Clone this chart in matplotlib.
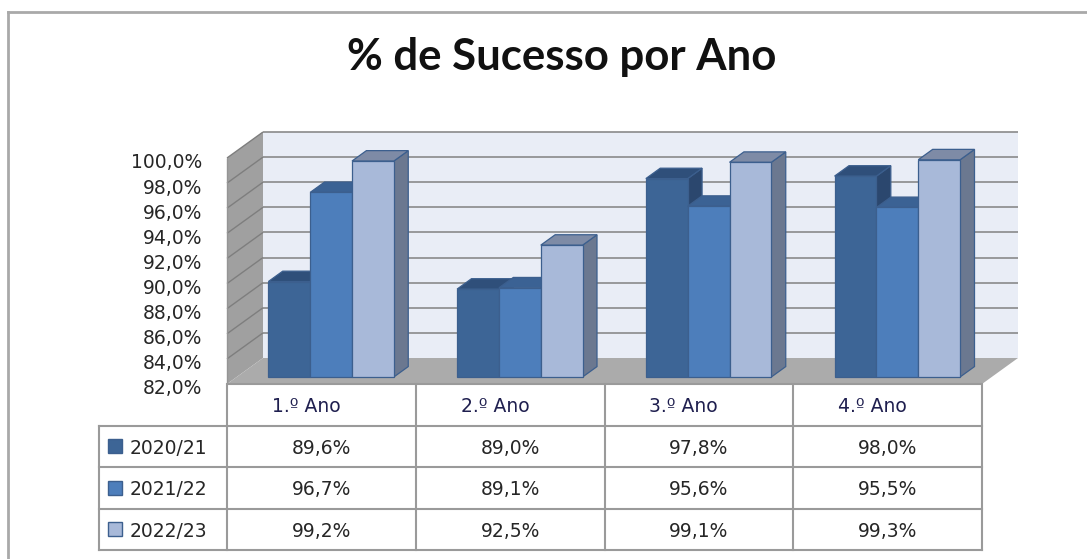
import matplotlib.pyplot as plt
from matplotlib.patches import Polygon
from matplotlib.lines import Line2D
from matplotlib.transforms import ScaledTranslation

# dados
categorias = ['1.º Ano', '2.º Ano', '3.º Ano', '4.º Ano']
anos = ['2020/21', '2021/22', '2022/23']
v_2020_21 = [89.6, 89.0, 97.8, 98.0]
v_2021_22 = [96.7, 89.1, 95.6, 95.5]
v_2022_23 = [99.2, 92.5, 99.1, 99.3]
eixo_y = [82, 84, 86, 88, 90, 92, 94, 96, 98, 100]

series = [v_2020_21, v_2021_22, v_2022_23]
# (frente, topo, lado)
cores = [('#3D6596', '#2F4F7A', '#2B476E'),
         ('#4D7EBB', '#3B6294', '#385C89'),
         ('#A8B9D9', '#7E8BA6', '#6B7890')]
borda = '#3C5F8E'

W, H = 1087, 559
fig = plt.figure(figsize=(W / 100, H / 100), dpi=100)

# area do grafico (plano da frente) em pixeis
x0_px, x1_px = 227, 982
y_top_px, y_bot_px = 158, 384
ax = fig.add_axes([x0_px / W, (H - y_bot_px) / H, (x1_px - x0_px) / W, (y_bot_px - y_top_px) / H])
ax.set_xlim(0, 4)
ax.set_ylim(82, 100)
ax.patch.set_visible(False)
for s in ax.spines.values():
    s.set_visible(False)

# profundidade (pseudo 3D) em unidades dos dados
px_x = (x1_px - x0_px) / 4
px_y = (y_bot_px - y_top_px) / 18
ddx = 36 / px_x
ddy = 26 / px_y


def proj(x, y, z):
    return (x + z * ddx, y + z * ddy)


def face(pts, fc, ec='none', lw=0.0, z=1):
    ax.add_patch(Polygon([proj(*p) for p in pts], closed=True, fc=fc, ec=ec,
                         lw=lw, clip_on=False, zorder=z))


def linha(p, q, color, lw, z=2):
    a, b = proj(*p), proj(*q)
    ax.add_line(Line2D([a[0], b[0]], [a[1], b[1]], color=color, lw=lw,
                       clip_on=False, zorder=z, solid_capstyle='butt'))


ymin, ymax = eixo_y[0], eixo_y[-1]
# parede do fundo
face([(0, ymin, 1), (4, ymin, 1), (4, ymax, 1), (0, ymax, 1)], '#E9EDF6', z=1)
# parede lateral
face([(0, ymin, 0), (0, ymin, 1), (0, ymax, 1), (0, ymax, 0)], '#A0A0A0', z=1)
for y in eixo_y[1:]:
    linha((0, y, 1), (4, y, 1), '#8A8A8A', 1.2)
    linha((0, y, 0), (0, y, 1), '#7E7E7E', 1.0)
# chao
face([(0, ymin, 0), (4, ymin, 0), (4, ymin, 1), (0, ymin, 1)], '#ABABAB', z=3)
linha((0, ymin, 0), (4, ymin, 0), '#9A9A9A', 1.5, z=4)
linha((0, ymin, 0), (0, ymax, 0), '#959595', 1.0, z=4)

# barras
z0, z1 = 0.27, 0.67
grupo = 0.665
bw = grupo / 3
zo = 5
for c in range(len(categorias)):
    for i, vals in enumerate(series):
        v = vals[c]
        xa = c + 0.5 - grupo / 2 + i * bw
        xb = xa + bw
        fr, tp, sd = cores[i]
        face([(xb, ymin, z0), (xb, ymin, z1), (xb, v, z1), (xb, v, z0)], sd, borda, 0.9, zo)
        face([(xa, v, z0), (xb, v, z0), (xb, v, z1), (xa, v, z1)], tp, borda, 0.9, zo + 1)
        face([(xa, ymin, z0), (xb, ymin, z0), (xb, v, z0), (xa, v, z0)], fr, borda, 0.9, zo + 2)
        zo += 3

ax.set_xticks([])
ax.set_yticks(eixo_y)
ax.set_yticklabels([f'{y:.1f}%'.replace('.', ',') for y in eixo_y])
ax.tick_params(axis='y', length=0, pad=18, labelsize=13.5, labelcolor='#262626')
for lab in ax.get_yticklabels():
    lab.set_transform(lab.get_transform() + ScaledTranslation(0, -0.03, fig.dpi_scale_trans))

# tabela de dados
tab_left_px, tab_bot_px = 99, 550
xl = (tab_left_px - x0_px) / px_x
tax = fig.add_axes([tab_left_px / W, (H - tab_bot_px) / H, (x1_px - tab_left_px) / W,
                    (tab_bot_px - y_bot_px) / H])
tax.set_xlim(xl, 4)
tax.set_ylim(4, 0)
tax.axis('off')

cor_tab = '#9A9A9A'
for c in range(5):
    tax.plot([c, c], [0, 4], color=cor_tab, lw=1.5, clip_on=False)
tax.plot([xl, xl], [1, 4], color=cor_tab, lw=1.5, clip_on=False)
for r in range(1, 5):
    tax.plot([xl, 4], [r, r], color=cor_tab, lw=1.5, clip_on=False)

for c, nome in enumerate(categorias):
    tax.text(c + 0.42, 0.55, nome, ha='center', va='center', fontsize=13.5, color='#1F1F4F')
for i, vals in enumerate(series):
    for c, v in enumerate(vals):
        tax.text(c + 0.5, i + 1.55, f'{v:.1f}%'.replace('.', ','), ha='center', va='center',
                 fontsize=13.5, color='#262626')
    kx = (115.5 - x0_px) / px_x
    tax.plot([kx], [i + 1.5], marker='s', ms=10.5, mfc=cores[i][0], mec=borda, mew=1.0,
             clip_on=False)
    tax.text((130 - x0_px) / px_x, i + 1.55, anos[i], ha='left', va='center', fontsize=13.5,
             color='#262626')

# titulo
fig.text(562 / W, 1 - 70 / H, '% de Sucesso por Ano', ha='center', va='baseline',
         fontsize=31.5, fontweight='bold', family='Lato', color='#111111')

# moldura do grafico
fig.add_artist(Line2D([8 / W, 8 / W], [0, 1 - 12 / H], transform=fig.transFigure,
                      color='#A9A9A9', lw=2))
fig.add_artist(Line2D([8 / W, 1], [1 - 12 / H, 1 - 12 / H], transform=fig.transFigure,
                      color='#A9A9A9', lw=2))

fig.savefig('out.png', dpi=100)
